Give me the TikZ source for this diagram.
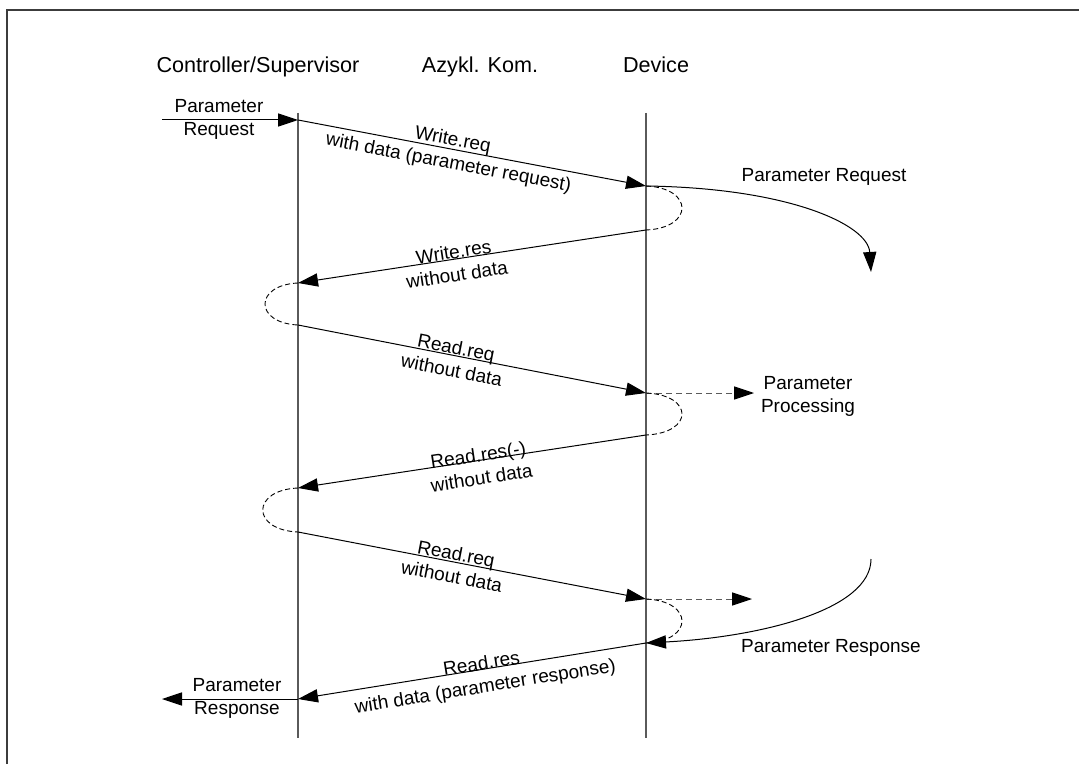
\documentclass[tikz,border=0pt]{standalone}
\usepackage{fontspec}
\setmainfont{Liberation Sans}
\definecolor{sqgray}{RGB}{90,90,90}
\definecolor{sqframe}{RGB}{60,60,60}
\usetikzlibrary{arrows.meta}
\tikzset{
  msg/.style={-{Triangle[length=10pt,width=6.6pt,color=black]}, line width=0.5pt},
  loopback/.style={line width=0.45pt, dash pattern=on 2.5pt off 1.5pt},
  procline/.style={msg, sqgray, dash pattern=on 3pt off 2pt},
  lifeline/.style={sqgray, line width=0.6pt},
  lbl/.style={font=\fontsize{9.5}{11.5}\selectfont, align=center, inner sep=0pt},
  head/.style={font=\fontsize{10.8}{13}\selectfont, anchor=base},
}
\begin{document}
\begin{tikzpicture}[x=0.5pt, y=-0.5pt]
  \useasboundingbox (0,0) rectangle (1079,764);
  % frame
  \draw[sqframe, line width=1pt] (7,764) -- (7,10) -- (1079,10);

  % headers
  \node[head] (ctrl) at (258,73) {Controller/Supervisor};
  \node[head] (azk) at (480,73) {Azykl. Kom.};
  \node[head] (dev) at (656,73) {Device};

  % lifelines
  \coordinate (ctop) at (298,113);
  \coordinate (cbot) at (298,738);
  \coordinate (dtop) at (646,113);
  \coordinate (dbot) at (646,738);
  \draw[lifeline] (ctop) -- (cbot);
  \draw[lifeline] (dtop) -- (dbot);

  % points on the lifelines
  \coordinate (c0) at (298,120);
  \coordinate (d1) at (646,186);
  \coordinate (d2) at (646,230);
  \coordinate (c2) at (298,283);
  \coordinate (c3) at (298,325);
  \coordinate (d3) at (646,393);
  \coordinate (d4) at (646,435);
  \coordinate (c4) at (298,488);
  \coordinate (c5) at (298,532);
  \coordinate (d5) at (646,599);
  \coordinate (d6) at (646,643);
  \coordinate (c6) at (298,699);

  % outer ends
  \coordinate (reqin) at (162,120);
  \coordinate (respout) at (162,699);
  \coordinate (procin) at (754,393);
  \coordinate (procin2) at (752,599);
  \coordinate (reqend) at (871,272);
  \coordinate (respbeg) at (871,559);

  % request in / response out
  \draw[msg] (reqin) -- (c0);
  \node[lbl] (reqlbl) at (219,119) {Parameter\\Request};
  \draw[msg] (c6) -- (respout);
  \node[lbl] (resplbl) at (237,698) {Parameter\\Response};

  % messages
  \draw[msg] (c0) -- node[lbl, sloped, pos=0.44, yshift=-1.5pt] (wreq) {Write.req\\with data (parameter request)} (d1);
  \draw[loopback] (d1) .. controls +(48,2) and +(48,-2) .. (d2);
  \draw[msg] (d2) -- node[lbl, sloped, pos=0.55, yshift=-2pt] (wres) {Write.res\\without data} (c2);
  \draw[loopback] (c2) .. controls +(-44,2) and +(-44,-2) .. (c3);
  \draw[msg] (c3) -- node[lbl, sloped, pos=0.45, yshift=-1.5pt] (rreq1) {Read.req\\without data} (d3);
  \draw[procline] (d3) -- (procin);
  \node[lbl] (proclbl) at (808,396) {Parameter\\Processing};
  \draw[loopback] (d3) .. controls +(48,2) and +(48,-2) .. (d4);
  \draw[msg] (d4) -- node[lbl, sloped, pos=0.48, yshift=-3pt] (rresneg) {Read.res(-)\\without data} (c4);
  \draw[loopback] (c4) .. controls +(-47,2) and +(-47,-2) .. (c5);
  \draw[msg] (c5) -- node[lbl, sloped, pos=0.45, yshift=-1.5pt] (rreq2) {Read.req\\without data} (d5);
  \draw[procline] (d5) -- (procin2);
  \draw[loopback] (d5) .. controls +(48,2) and +(48,-2) .. (d6);
  \draw[msg] (d6) -- node[lbl, sloped, pos=0.47, yshift=-3.5pt] (rres) {Read.res\\with data (parameter response)} (c6);

  % device side
  \draw[msg] (d1) .. controls (790,188) and (868,225) .. (reqend);
  \node[lbl] (devreq) at (824,177) {Parameter Request};
  \draw[msg] (respbeg) .. controls (871,610) and (760,637) .. (d6);
  \node[lbl] (devresp) at (831,648) {Parameter Response};
\end{tikzpicture}
\end{document}
